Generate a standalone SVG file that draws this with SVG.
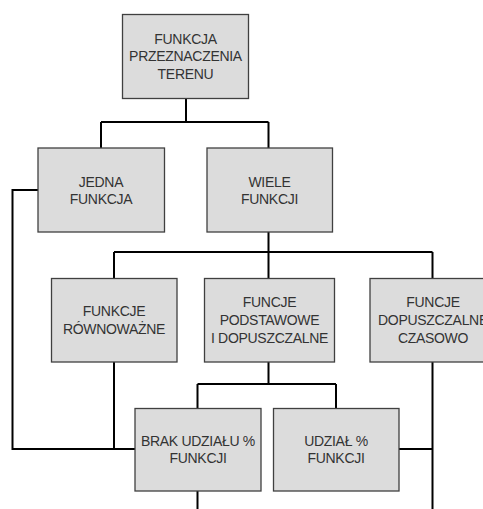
<svg xmlns="http://www.w3.org/2000/svg" width="483" height="509" viewBox="0 0 483 509">
<style>
.box{fill:#dcdcdc;stroke:#404040;stroke-width:1.3}
.t{font-family:"Liberation Sans",Arial,sans-serif;font-size:14px;fill:#333;text-anchor:middle;letter-spacing:-0.3px}
.c{fill:none;stroke:#000;stroke-width:2}
</style>
<rect width="483" height="509" fill="#fff"/>
<g id="connectors">
<path class="c" d="M186 98V122M101 122H268.5M101 122V148M268.5 122V148"/>
<path class="c" d="M38 190H12.5V449H135"/>
<path class="c" d="M268.5 232V252M114 252H432.5M114 252V278M268.5 252V278M432.5 252V278"/>
<path class="c" d="M114 362V449"/>
<path class="c" d="M268.5 362V384M197.5 384H336M197.5 384V408M336 384V408"/>
<path class="c" d="M399 449H432.5M432.5 362V509"/>
<path class="c" d="M197.5 491V509"/>
</g>
<g id="n-funkcja">
<rect class="box" x="122.5" y="14.5" width="126" height="84"/>
<text class="t" x="185.5" y="43.5">FUNKCJA</text>
<text class="t" x="185.5" y="61">PRZEZNACZENIA</text>
<text class="t" x="185.5" y="78.5">TERENU</text>
</g>
<g id="n-jedna">
<rect class="box" x="38" y="148" width="126.5" height="84"/>
<text class="t" x="101" y="186.5">JEDNA</text>
<text class="t" x="101" y="204">FUNKCJA</text>
</g>
<g id="n-wiele">
<rect class="box" x="207" y="148" width="125.5" height="84"/>
<text class="t" x="269.5" y="186.5">WIELE</text>
<text class="t" x="269.5" y="204">FUNKCJI</text>
</g>
<g id="n-rownowazne">
<rect class="box" x="51.5" y="278.5" width="125.5" height="83.5"/>
<text class="t" x="114" y="315.5">FUNKCJE</text>
<text class="t" x="114" y="334">RÓWNOWAŻNE</text>
</g>
<g id="n-podstawowe">
<rect class="box" x="204.5" y="278.5" width="130" height="83.5"/>
<text class="t" x="269.5" y="306.5">FUNCJE</text>
<text class="t" x="269.5" y="325">PODSTAWOWE</text>
<text class="t" x="269.5" y="343.3">I DOPUSZCZALNE</text>
</g>
<g id="n-czasowo">
<rect class="box" x="370" y="278.5" width="126" height="83.5"/>
<text class="t" x="433" y="306.5">FUNCJE</text>
<text class="t" x="433" y="325">DOPUSZCZALNE</text>
<text class="t" x="433" y="343.3">CZASOWO</text>
</g>
<g id="n-brak">
<rect class="box" x="135" y="408.5" width="126" height="82.5"/>
<text class="t" x="198" y="446">BRAK UDZIAŁU %</text>
<text class="t" x="198" y="463.3">FUNKCJI</text>
</g>
<g id="n-udzial">
<rect class="box" x="273.5" y="408.5" width="125.5" height="82.5"/>
<text class="t" x="336" y="446">UDZIAŁ %</text>
<text class="t" x="336" y="463.3">FUNKCJI</text>
</g>
</svg>
